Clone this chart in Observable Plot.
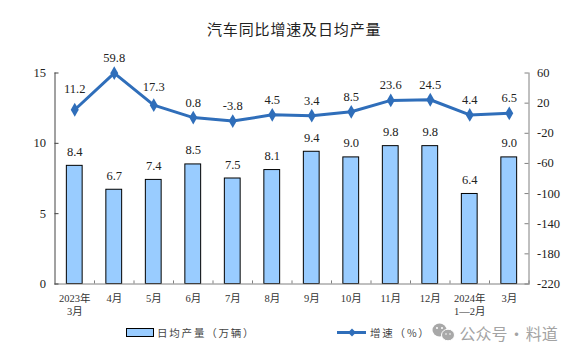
<!DOCTYPE html>
<html><head><meta charset="utf-8">
<script src="https://cdn.jsdelivr.net/npm/d3@7"></script>
<script src="https://cdn.jsdelivr.net/npm/@observablehq/plot@0.6"></script>
<style>
html,body{margin:0;padding:0;background:#fff;}
#c{position:relative;width:576px;height:356px;overflow:hidden;font-family:"Liberation Serif","Noto Sans CJK SC",serif;color:#222;}
#c svg.plot{position:absolute;left:0;top:0;background:transparent;}
.t{position:absolute;white-space:nowrap;font-family:"Noto Sans CJK SC",sans-serif;}
</style></head><body><div id="c">
<div class="t" style="left:207px;top:18px;font-size:15px;line-height:22px;letter-spacing:.85px;color:#222;">汽车同比增速及日均产量</div>
<div class="t" style="left:157px;top:325px;font-size:10.5px;line-height:16px;letter-spacing:1.8px;color:#444;">日均产量（万辆）</div>
<div class="t" style="left:370px;top:325px;font-size:10.5px;line-height:16px;letter-spacing:1.8px;color:#444;">增速（%）</div>
<div class="t" style="left:459.5px;top:321px;font-size:16px;line-height:24px;letter-spacing:0;word-spacing:-2.5px;color:#a3a3a3;">公众号 · 料道</div>
<svg style="position:absolute;left:0;top:0" width="576" height="356">
<rect x="126.5" y="328.5" width="27" height="8" fill="#99CCFF" stroke="#000" stroke-width="1"/>
<line x1="337" x2="366" y1="332.5" y2="332.5" stroke="#2F6EBA" stroke-width="3"/>
<path d="M352 328.5L356 332.5L352 336.5L348 332.5Z" fill="#2F6EBA"/>
<ellipse cx="439.5" cy="330" rx="7" ry="6.5" fill="#a8a8a8"/>
<ellipse cx="448" cy="335" rx="6.5" ry="5.8" fill="#a8a8a8" stroke="#fff" stroke-width="1"/>
<circle cx="437" cy="328" r="1" fill="#fff"/><circle cx="442" cy="328" r="1" fill="#fff"/>
<circle cx="446" cy="334" r=".8" fill="#fff"/><circle cx="450" cy="334" r=".8" fill="#fff"/>
</svg>
</div>
<script>
const categories = ["2023年\n3月","4月","5月","6月","7月","8月","9月","10月","11月","12月","2024年\n1—2月","3月"];
const dailyOutput = [8.4,6.7,7.4,8.5,7.5,8.1,9.4,9.0,9.8,9.8,6.4,9.0];
const growth = [11.2,59.8,17.3,0.8,-3.8,4.5,3.4,8.5,23.6,24.5,4.4,6.5];
const leftTicks = [0,5,10,15];
const rightTicks = [60,20,-20,-60,-100,-140,-180,-220];

const toLeft = v => (v + 220) / 280 * 15;
const rows = categories.map((c,i)=>({c, o:dailyOutput[i], g:growth[i], gy:toLeft(growth[i])}));
const serif = '"Liberation Serif","Noto Sans CJK SC",serif';
const W=576,H=356,mL=54.5,mR=47.5,step=(W-mL-mR)/12;
const nudge = {"11.2":-21,"17.3":-18};

const p = Plot.plot({
  width:W,height:H,marginLeft:mL,marginRight:mR,marginTop:72.5,marginBottom:72.5,
  style:{fontFamily:serif,background:"transparent",overflow:"visible"},
  x:{type:"band",domain:categories,paddingInner:0.6,paddingOuter:0.3,align:0.5,round:false,label:null},
  y:{domain:[0,15],label:null},
  marks:[
    Plot.barY(rows,{x:"c",y:"o",fill:"#99CCFF",stroke:"#000",strokeWidth:1}),
    Plot.frame({anchor:"left",stroke:"#444"}),
    Plot.frame({anchor:"right",stroke:"#808080"}),
    Plot.frame({anchor:"bottom",stroke:"#808080"}),
    Plot.tickY(leftTicks,{y:d=>d,stroke:"#444",insetRight:W-mL-mR-4}),
    Plot.tickY(rightTicks,{y:toLeft,stroke:"#808080",insetLeft:W-mL-mR-4}),
    Plot.ruleX(categories,{x:d=>d,dx:step/2,y1:0,y2:0.22,stroke:"#808080"}),
    Plot.axisY({anchor:"left",ticks:leftTicks,tickSize:0,tickPadding:9,fontSize:12.5,fill:"#222"}),
    Plot.axisY({anchor:"right",ticks:rightTicks.map(toLeft),tickFormat:d=>String(Math.round(d/15*280-220)),tickSize:0,tickPadding:8,fontSize:12.5,fill:"#222"}),
    Plot.axisX({anchor:"bottom",tickSize:0,tickPadding:8,fontSize:10.5,lineHeight:1.3,fill:"#333"}),
    Plot.text(rows,{x:"c",y:"o",text:d=>d.o.toFixed(1),dy:-14,fontSize:12.5,fill:"#222"}),
    Plot.line(rows,{x:"c",y:"gy",stroke:"#2F6EBA",strokeWidth:3,curve:"linear"}),
    Plot.dot(rows,{x:"c",y:"gy",symbol:"diamond",r:4.2,fill:"#2F6EBA"}),
    Plot.text(rows.filter(d=>!(d.g in nudge)),{x:"c",y:"gy",text:d=>d.g.toFixed(1),dy:-15,fontSize:12.5,fill:"#222"}),
    Plot.text(rows.filter(d=>d.g===11.2),{x:"c",y:"gy",text:d=>d.g.toFixed(1),dy:nudge["11.2"],fontSize:12.5,fill:"#222"}),
    Plot.text(rows.filter(d=>d.g===17.3),{x:"c",y:"gy",text:d=>d.g.toFixed(1),dy:nudge["17.3"],fontSize:12.5,fill:"#222"})
  ]
});
document.getElementById("c").prepend(p);
</script></body></html>
